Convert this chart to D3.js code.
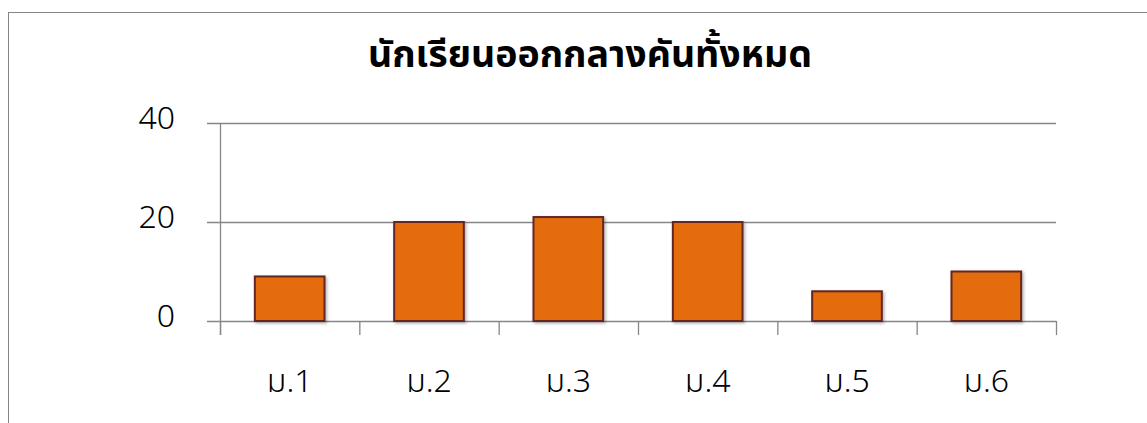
<!DOCTYPE html>
<html><head><meta charset="utf-8">
<script src="https://cdn.jsdelivr.net/npm/d3@7"></script>
<style>body{margin:0;background:#fff;overflow:hidden}svg{display:block}</style>
</head><body>
<script>
const categories = ["ม.1","ม.2","ม.3","ม.4","ม.5","ม.6"];
const values = [9,20,21,20,6,10];
const yTicks = [0,20,40];
const title = "นักเรียนออกกลางคันทั้งหมด";

const W = 1147, H = 423;
const svg = d3.select("body").append("svg").attr("width",W).attr("height",H);
const defs = svg.append("defs");
const f = defs.append("filter").attr("id","sh").attr("x","-20%").attr("y","-20%").attr("width","150%").attr("height","150%");
f.append("feDropShadow").attr("dx",1.5).attr("dy",1.5).attr("stdDeviation",1.5).attr("flood-color","#000").attr("flood-opacity",0.3);

svg.append("rect").attr("x",8.5).attr("y",12.5).attr("width",1160).attr("height",430)
  .attr("fill","#fff").attr("stroke","#868686").attr("stroke-width",1);

const pL = 220, pR = 1056, pT = 123, pB = 321;
const x = d3.scaleBand().domain(categories).range([pL,pR]).paddingInner(0).paddingOuter(0);
const y = d3.scaleLinear().domain([0,40]).range([pB,pT]);
const font = "'Noto Sans Thai','Noto Sans','Tahoma',sans-serif";

// gridlines
svg.append("g").selectAll("line").data(yTicks).join("line")
  .attr("x1",pL-13).attr("x2",pR).attr("y1",d=>y(d)+0.5).attr("y2",d=>y(d)+0.5)
  .attr("stroke","#868686").attr("stroke-width",1.3);
// y axis line
svg.append("line").attr("x1",pL+0.5).attr("x2",pL+0.5).attr("y1",pT).attr("y2",pB+14)
  .attr("stroke","#868686").attr("stroke-width",1.3);
// x ticks
const xt = categories.map(c=>x(c)+x.bandwidth()).concat([x(categories[0])]);
svg.append("g").selectAll("line").data(xt).join("line")
  .attr("x1",d=>d+0.5).attr("x2",d=>d+0.5).attr("y1",pB).attr("y2",pB+14)
  .attr("stroke","#868686").attr("stroke-width",1.3);

// bars
const bw = x.bandwidth()*0.5;
svg.append("g").selectAll("rect").data(values).join("rect")
  .attr("x",(d,i)=>x(categories[i])+x.bandwidth()/2-bw/2)
  .attr("y",d=>y(d))
  .attr("width",bw).attr("height",d=>y(0)-y(d))
  .attr("fill","#E46C0A").attr("stroke","#632523").attr("stroke-width",2)
  .attr("filter","url(#sh)");

// y labels
svg.append("g").selectAll("text").data(yTicks).join("text")
  .attr("x",175).attr("y",d=>y(d)+6).attr("text-anchor","end")
  .attr("font-family",font).attr("font-size",32).attr("font-weight",300).attr("fill","#000")
  .text(d=>d);
// x labels
svg.append("g").selectAll("text").data(categories).join("text")
  .attr("x",d=>x(d)+x.bandwidth()/2).attr("y",392).attr("text-anchor","middle")
  .attr("font-family",font).attr("font-size",32).attr("font-weight",300).attr("fill","#000")
  .text(d=>d);
// title
svg.append("text").attr("x",590).attr("y",67).attr("text-anchor","middle")
  .attr("font-family",font).attr("font-size",37.5).attr("font-weight","bold").attr("fill","#000")
  .text(title);
</script>
</body></html>
